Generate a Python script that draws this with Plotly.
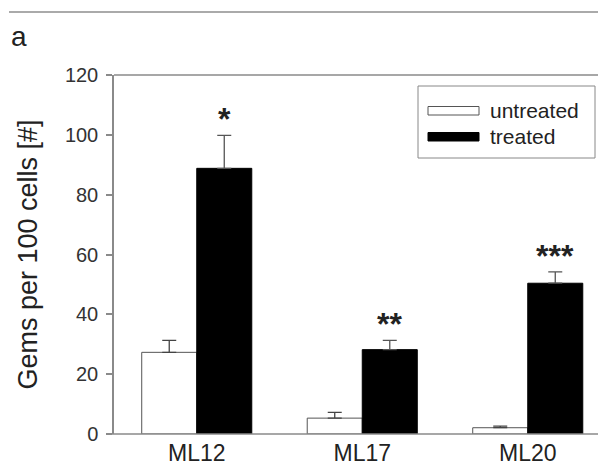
import plotly.graph_objects as go

categories = ["ML12", "ML17", "ML20"]
untreated = [27.3, 5.3, 2.1]
untreated_err = [4.0, 1.9, 0.5]
treated = [88.8, 28.2, 50.4]
treated_err = [11.0, 3.1, 3.8]
stars = ["*", "**", "***"]
series_names = ["untreated", "treated"]
y_ticks = [0, 20, 40, 60, 80, 100, 120]
panel_label = "a"
y_title = "Gems per 100 cells [#]"

FONT = "Liberation Sans, Arial, sans-serif"
AXIS = "#8a8a8a"
W, H = 598, 472
L, R, T, B = 114, 0, 75, 38
pw, ph = W - L - R, H - T - B

def px(xp):
    return (xp - L) / pw

def py(yp):
    return (H - B - yp) / ph

fig = go.Figure()
fig.add_trace(go.Bar(
    x=categories, y=untreated, name=series_names[0],
    marker=dict(color="white", line=dict(color="#555", width=1)),
    error_y=dict(type="data", array=untreated_err, symmetric=False,
                 arrayminus=[0] * 3, color="#444", thickness=1.3, width=7),
    showlegend=False,
))
fig.add_trace(go.Bar(
    x=categories, y=treated, name=series_names[1],
    marker=dict(color="black", line=dict(color="black", width=1)),
    error_y=dict(type="data", array=treated_err, symmetric=False,
                 arrayminus=[0] * 3, color="#555", thickness=1.3, width=7),
    showlegend=False,
))

annotations = []
for i, s in enumerate(stars):
    annotations.append(dict(
        x=i, y=treated[i] + treated_err[i], xref="x", yref="y",
        text="<b>" + s + "</b>", showarrow=False, xshift=27.5, yshift=-4, yanchor="bottom",
        font=dict(family=FONT, size=32, color="#222"),
    ))

annotations.append(dict(
    x=px(9), y=py(36), xref="paper", yref="paper", text=panel_label,
    showarrow=False, xanchor="left", yanchor="middle",
    font=dict(family=FONT, size=28, color="#222"),
))

annotations.append(dict(x=px(488), y=py(110), xref="paper", yref="paper",
                        text=series_names[0], showarrow=False, xanchor="left", yanchor="middle",
                        font=dict(family=FONT, size=21, color="#222")))
annotations.append(dict(x=px(488), y=py(137), xref="paper", yref="paper",
                        text=series_names[1], showarrow=False, xanchor="left", yanchor="middle",
                        font=dict(family=FONT, size=21, color="#222")))

shapes = [
    # top rule of the figure
    dict(type="line", xref="paper", yref="paper", x0=px(9), x1=px(598), y0=py(12), y1=py(12),
         line=dict(color="#aaa", width=2)),
    # legend box and keys
    dict(type="rect", xref="paper", yref="paper", x0=px(418), x1=px(595), y0=py(86), y1=py(158),
         line=dict(color="#888", width=1), fillcolor="rgba(0,0,0,0)"),
    dict(type="rect", xref="paper", yref="paper", x0=px(428), x1=px(479), y0=py(106.5), y1=py(115),
         line=dict(color="#555", width=1), fillcolor="white"),
    dict(type="rect", xref="paper", yref="paper", x0=px(428), x1=px(479), y0=py(132.5), y1=py(141),
         line=dict(color="black", width=1), fillcolor="black"),
    # top frame line of the plot area
    dict(type="line", xref="paper", yref="paper", x0=0, x1=px(598), y0=1.0, y1=1.0,
         line=dict(color=AXIS, width=1.5)),
    # bottom axis line (extends slightly left of the y axis)
    dict(type="line", xref="paper", yref="paper", x0=px(108), x1=px(598), y0=0, y1=0,
         line=dict(color=AXIS, width=1.5)),
]

fig.update_layout(
    width=W, height=H,
    margin=dict(l=L, r=R, t=T, b=B),
    paper_bgcolor="white", plot_bgcolor="white",
    barmode="group", bargap=0.335, bargroupgap=0,
    annotations=annotations, shapes=shapes,
    showlegend=False,
)
fig.update_xaxes(
    type="category", range=[-0.5, -0.5 + pw / 165.5],
    showline=False, mirror=False,
    ticks="", showgrid=False, zeroline=False, ticklabelstandoff=3,
    tickfont=dict(family=FONT, size=23, color="#222"),
)
fig.update_yaxes(
    range=[0, 120], tickvals=y_ticks,
    showline=True, linecolor=AXIS, linewidth=1.5, mirror=False,
    ticks="outside", ticklen=6, tickcolor=AXIS, tickwidth=1.5,
    showgrid=False, zeroline=False, ticklabelstandoff=4,
    tickfont=dict(family=FONT, size=20, color="#333"),
    title=dict(text=y_title, font=dict(family=FONT, size=27, color="#222"), standoff=19),
)

fig.write_html("out.html", config={"displayModeBar": False})
